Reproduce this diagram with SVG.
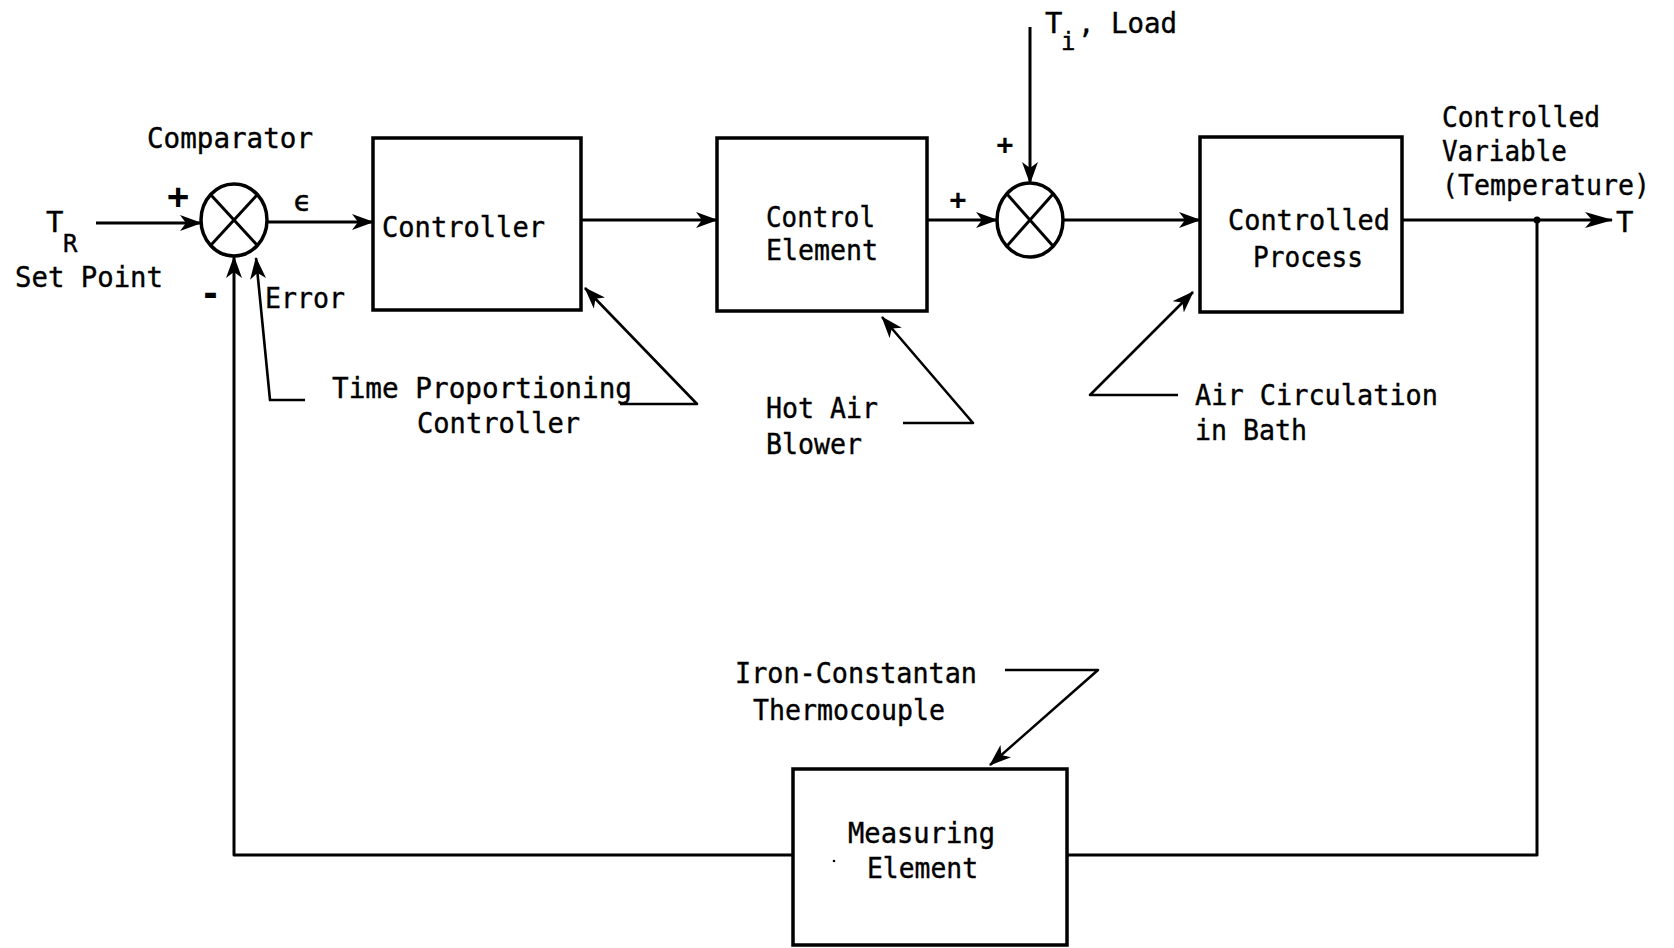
<svg xmlns="http://www.w3.org/2000/svg" width="1674" height="948" viewBox="0 0 1674 948">
<style>
.t{font-family:"DejaVu Sans Mono","Liberation Mono",monospace;font-size:29px;fill:#000;stroke:#000;stroke-width:0.4}
.s{font-family:"DejaVu Sans Mono","Liberation Mono",monospace;font-size:24px;fill:#000;stroke:#000;stroke-width:0.4}
.p{font-family:"DejaVu Sans Mono","Liberation Mono",monospace;font-weight:bold;fill:#000}
.box{fill:#fff;stroke:#000;stroke-width:3.5}
.sum{fill:#fff;stroke:#000;stroke-width:3.5}
.ln{fill:none;stroke:#000;stroke-width:3;stroke-linejoin:round}
.ld{fill:none;stroke:#000;stroke-width:2.6;stroke-linejoin:round}
</style>
<defs>
<marker id="ah" viewBox="0 0 22 16" markerWidth="22" markerHeight="16" refX="21" refY="8" orient="auto" markerUnits="userSpaceOnUse">
<path d="M0,0 L22,8 L0,16 L6,8 z" fill="#000"/>
</marker>
<marker id="ahb" viewBox="0 0 28 16" markerWidth="28" markerHeight="16" refX="27" refY="8" orient="auto" markerUnits="userSpaceOnUse">
<path d="M0,0 L28,8 L0,16 L7,8 z" fill="#000"/>
</marker>
</defs>
<rect width="1674" height="948" fill="#fff"/>

<g id="connectors">
<line class="ln" x1="96" y1="223" x2="201" y2="223" marker-end="url(#ah)"/>
<line class="ln" x1="267" y1="222" x2="373" y2="222" marker-end="url(#ah)"/>
<line class="ln" x1="581" y1="220" x2="717" y2="220" marker-end="url(#ah)"/>
<line class="ln" x1="927" y1="220" x2="997" y2="220" marker-end="url(#ah)"/>
<line class="ln" x1="1030" y1="27" x2="1030" y2="183" marker-end="url(#ah)"/>
<line class="ln" x1="1063" y1="220" x2="1200" y2="220" marker-end="url(#ah)"/>
<line class="ln" x1="1402" y1="220" x2="1612" y2="220" marker-end="url(#ahb)"/>
<circle cx="1537" cy="220" r="3.5" fill="#000"/>
<polyline class="ln" points="1537,220 1537,855 1067,855"/>
<polyline class="ln" points="793,855 234,855 234,257" marker-end="url(#ah)"/>
<polyline class="ld" points="305,400 270,400 256,258" marker-end="url(#ah)"/>
<polyline class="ld" points="620,404 697,404 585,288" marker-end="url(#ah)"/>
<polyline class="ld" points="903,423 973,423 882,317" marker-end="url(#ah)"/>
<polyline class="ld" points="1178,395 1090,395 1193,292" marker-end="url(#ah)"/>
<polyline class="ld" points="1005,670 1098,670 990,765" marker-end="url(#ah)"/>
</g>

<g id="comparator">
<ellipse class="sum" cx="234" cy="220" rx="33" ry="36"/>
<line class="ln" x1="211" y1="195" x2="257" y2="245"/>
<line class="ln" x1="257" y1="195" x2="211" y2="245"/>
<text class="t" x="147" y="148" textLength="166" lengthAdjust="spacingAndGlyphs">Comparator</text>
<text class="p" x="178" y="209" font-size="36" text-anchor="middle">+</text>
<text class="p" x="200" y="306" font-size="38" textLength="21" lengthAdjust="spacingAndGlyphs">-</text>
<text class="t" x="293" y="211" font-size="33">ϵ</text>
<text class="t" x="265" y="308" textLength="80" lengthAdjust="spacingAndGlyphs">Error</text>
</g>

<g id="setpoint">
<text class="t" x="46" y="232">T</text>
<text class="s" x="63" y="252">R</text>
<text class="t" x="15" y="287" textLength="148" lengthAdjust="spacingAndGlyphs">Set Point</text>
</g>

<g id="controller">
<rect class="box" x="373" y="138" width="208" height="172"/>
<text class="t" x="382" y="237" textLength="163" lengthAdjust="spacingAndGlyphs">Controller</text>
</g>

<g id="control-element">
<rect class="box" x="717" y="138" width="210" height="173"/>
<text class="t" x="766" y="227" textLength="109" lengthAdjust="spacingAndGlyphs">Control</text>
<text class="t" x="766" y="260" textLength="112" lengthAdjust="spacingAndGlyphs">Element</text>
</g>

<g id="load-summer">
<ellipse class="sum" cx="1030" cy="220" rx="33" ry="37"/>
<line class="ln" x1="1007" y1="194" x2="1053" y2="246"/>
<line class="ln" x1="1053" y1="194" x2="1007" y2="246"/>
<text class="p" x="958" y="209" font-size="28" text-anchor="middle">+</text>
<text class="p" x="1005" y="154" font-size="28" text-anchor="middle">+</text>
<text class="t" x="1045" y="33">T</text>
<text class="s" x="1061" y="50">i</text>
<text class="t" x="1078" y="33" textLength="99" lengthAdjust="spacingAndGlyphs">, Load</text>
</g>

<g id="controlled-process">
<rect class="box" x="1200" y="137" width="202" height="175"/>
<text class="t" x="1228" y="230" textLength="162" lengthAdjust="spacingAndGlyphs">Controlled</text>
<text class="t" x="1253" y="267" textLength="110" lengthAdjust="spacingAndGlyphs">Process</text>
</g>

<g id="output">
<text class="t" x="1442" y="127" textLength="158" lengthAdjust="spacingAndGlyphs">Controlled</text>
<text class="t" x="1442" y="161" textLength="125" lengthAdjust="spacingAndGlyphs">Variable</text>
<text class="t" x="1442" y="195" textLength="208" lengthAdjust="spacingAndGlyphs">(Temperature)</text>
<text class="t" x="1616" y="232">T</text>
</g>

<g id="annotations">
<text class="t" x="332" y="398" textLength="300" lengthAdjust="spacingAndGlyphs">Time Proportioning</text>
<text class="t" x="417" y="433" textLength="163" lengthAdjust="spacingAndGlyphs">Controller</text>
<text class="t" x="766" y="418" textLength="112" lengthAdjust="spacingAndGlyphs">Hot Air</text>
<text class="t" x="766" y="454" textLength="96" lengthAdjust="spacingAndGlyphs">Blower</text>
<text class="t" x="1195" y="405" textLength="243" lengthAdjust="spacingAndGlyphs">Air Circulation</text>
<text class="t" x="1195" y="440" textLength="112" lengthAdjust="spacingAndGlyphs">in Bath</text>
<text class="t" x="735" y="683" textLength="242" lengthAdjust="spacingAndGlyphs">Iron-Constantan</text>
<text class="t" x="753" y="720" textLength="192" lengthAdjust="spacingAndGlyphs">Thermocouple</text>
</g>

<g id="measuring-element">
<rect class="box" x="793" y="769" width="274" height="176"/>
<text class="t" x="848" y="843" textLength="147" lengthAdjust="spacingAndGlyphs">Measuring</text>
<text class="t" x="867" y="878" textLength="111" lengthAdjust="spacingAndGlyphs">Element</text>
<circle cx="834" cy="861" r="1.3" fill="#000"/>
</g>
</svg>
